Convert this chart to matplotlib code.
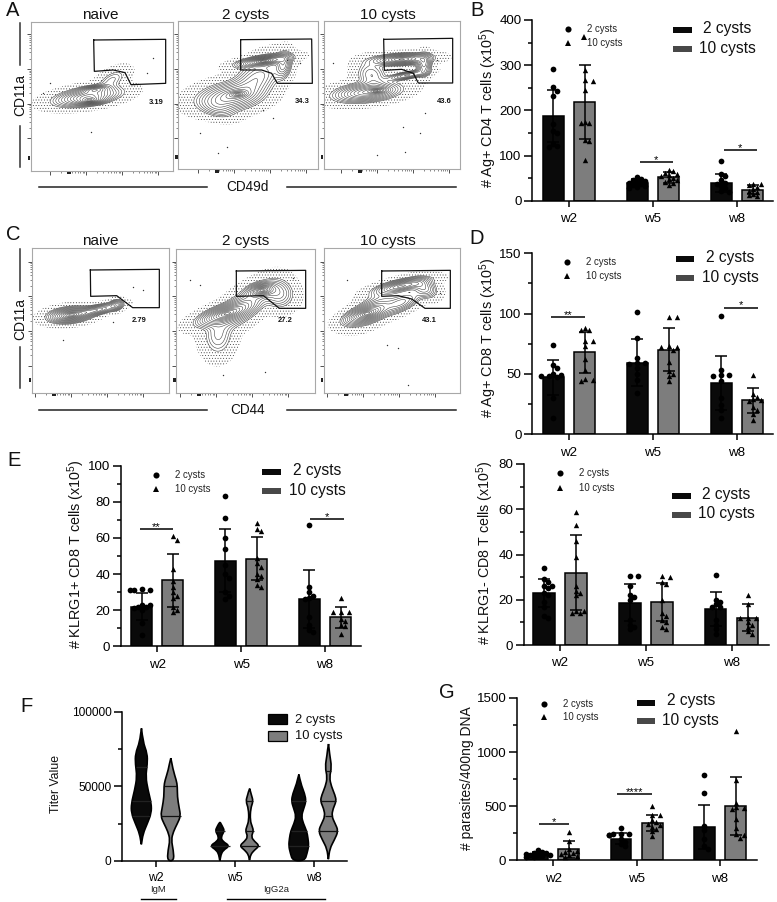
import numpy as np
import matplotlib
matplotlib.use("Agg")
import matplotlib.pyplot as plt
from matplotlib.patches import Rectangle, PathPatch
from matplotlib.path import Path

plt.rcParams['font.family'] = ['Liberation Sans', 'DejaVu Sans']
plt.rcParams['mathtext.default'] = 'regular'
plt.rcParams['hatch.linewidth'] = 0.3
plt.rcParams['hatch.color'] = '#333333'

W, H = 777, 902
WEEKS = ['w2', 'w5', 'w8']
GROUPS = ['2 cysts', '10 cysts']
BLACK = '#0a0a0a'
GREY = '#7d7d7d'
LEG_GREY = '#484848'

# ---- bar panel values -------------------------------------------------
B_MEAN_2 = [188, 40, 40]
B_SD_2 = [57, 7, 20]
B_MEAN_10 = [218, 52, 24]
B_SD_10 = [82, 12, 10]
B_PTS_2 = [[291, 251, 243, 231, 170, 155, 150, 125, 120, 118],
           [52, 48, 45, 43, 42, 40, 38, 35, 33, 30, 28],
           [88, 58, 55, 45, 40, 38, 32, 28, 22, 20]]
B_PTS_10 = [[290, 267, 265, 245, 175, 172, 172, 135, 132, 90],
            [68, 65, 62, 60, 57, 55, 50, 47, 45, 42, 40, 35],
            [38, 36, 34, 30, 25, 22, 20, 15, 12, 10]]

D_MEAN_2 = [47, 59, 42.5]
D_SD_2 = [14.5, 19.5, 22.5]
D_MEAN_10 = [68, 70, 28]
D_SD_10 = [17, 18, 10.5]
D_PTS_2 = [[74, 57, 55, 50, 49, 48, 48, 47, 30, 13],
           [101, 80, 63, 59, 59, 58, 55, 50, 45, 34],
           [98, 53, 49, 49, 48, 44, 30, 24, 20, 13]]
D_PTS_10 = [[88, 86, 86, 77, 77, 73, 62, 53, 46, 45, 44],
            [97, 97, 73, 72, 72, 70, 60, 52, 50, 48, 44],
            [49, 33, 31, 29, 28, 27, 22, 20, 17, 12]]

E_MEAN_2 = [22, 47.5, 26]
E_SD_2 = [7.5, 17.5, 16]
E_MEAN_10 = [36.5, 48.5, 16]
E_SD_10 = [14.5, 12, 6]
E_PTS_2 = [[31.5, 31, 31, 31, 23, 23, 22, 22, 21, 20, 13, 6],
           [83, 71, 60, 54, 45, 40, 38, 30, 28, 26],
           [67, 33, 30, 28, 27, 26, 16, 12, 9, 8]]
E_PTS_10 = [[61, 59, 43, 36, 33, 30, 28, 27, 22, 20, 19],
            [68, 65, 64, 49, 46, 44, 40, 39, 37, 34, 33],
            [27, 19, 19, 19, 15, 14, 12, 11, 7]]

K_MEAN_2 = [23, 18.7, 16]
K_SD_2 = [6, 8.3, 7.5]
K_MEAN_10 = [32, 19, 12]
K_SD_10 = [16.5, 8.5, 6]
K_PTS_2 = [[34, 29, 28, 26, 26, 25, 23, 22, 19, 17, 13, 12],
           [30.5, 30.5, 26, 22, 21, 20, 11, 9, 8, 7],
           [31, 20, 19, 18, 17, 17, 11, 9, 7, 5]]
K_PTS_10 = [[59, 53, 46, 39, 26, 24, 23, 22, 15, 15, 14, 14],
            [30.5, 30, 28, 27, 20, 14, 13, 11, 10, 8, 7],
            [22, 18, 12, 12, 12, 10, 9, 8, 6, 5]]

G_MEAN_2 = [50, 200, 305]
G_SD_2 = [25, 50, 205]
G_MEAN_10 = [100, 345, 500]
G_SD_10 = [75, 70, 270]
G_PTS_2 = [[95, 80, 70, 65, 60, 55, 50, 45, 40, 35, 30],
           [295, 245, 240, 240, 235, 230, 200, 170, 150, 130],
           [785, 620, 320, 280, 200, 130, 100]]
G_PTS_10 = [[265, 175, 100, 90, 80, 70, 60, 50, 40, 35],
            [505, 420, 415, 370, 350, 340, 330, 310, 290, 270, 225],
            [1195, 745, 530, 490, 480, 470, 380, 300, 240, 235, 205]]

# ---- violin outlines (titer, half width in category units) ------------
V_W2_2 = [(89000, .002), (80000, .02), (72000, .076), (65000, .076), (56500, .055), (47500, .085),
          (38500, .127), (32000, .127), (25000, .076), (18000, .021), (11000, .002)]
V_W2_10 = [(69000, .002), (61000, .03), (54000, .072), (50000, .085), (43000, .085), (36000, .106),
           (30000, .127), (25000, .085), (19500, .034), (14000, .008), (7000, .034), (0, .042)]
V_W5_2 = [(26000, .002), (23000, .034), (20000, .059), (16000, .013), (13000, .034), (10000, .127),
          (7000, .042), (4000, .013), (0, .002)]
V_W5_10 = [(48500, .002), (44000, .025), (40000, .047), (35000, .013), (27000, .008), (23000, .034),
           (20000, .051), (16000, .021), (13000, .063), (10000, .127), (7000, .059), (4000, .013), (500, .003)]
V_W8_2 = [(58000, .002), (52000, .025), (45000, .076), (40000, .093), (35000, .063), (30000, .034),
          (25000, .059), (20000, .101), (15000, .118), (10000, .127), (5000, .106), (0, .076)]
V_W8_10 = [(78500, .002), (71000, .017), (63000, .042), (56000, .013), (50000, .038), (44000, .085),
           (40000, .101), (35000, .059), (30000, .042), (25000, .085), (20000, .127), (14000, .076),
           (8000, .017), (1000, .002)]
V_Q_W2_2 = [63000, 40000, 30000]
V_Q_W2_10 = [50000, 30000]
V_Q_W5_2 = [20000, 10000]
V_Q_W5_10 = [40000, 20000, 10000]
V_Q_W8_2 = [40000, 20000, 10000]
V_Q_W8_10 = [60000, 40000, 30000, 20000]

# ---- flow cytometry panels (all in 3x crop units) ---------------------
# population blobs: x, y, sigma along, sigma across, angle, weight
A1_POP = [(262, 290, 52, 14, -8, 1.0), (285, 268, 24, 6, -5, .55), (272, 303, 24, 6, -5, .55), (335, 240, 28, 14, -30, .2)]
A2_POP = [(690, 290, 52, 22, -8, .75), (715, 282, 18, 6, -5, .35), (790, 183, 42, 8, -8, 1.0), (850, 195, 13, 22, 10, .5),
          (770, 235, 46, 26, -35, .45), (655, 325, 30, 16, 15, .2)]
A3_POP = [(1100, 277, 52, 15, -6, .9), (1135, 272, 18, 5, -5, .35), (1205, 178, 46, 9, -3, 1.0), (1272, 195, 12, 18, 5, .6),
          (1222, 226, 32, 6, -10, .6), (1115, 225, 22, 26, -60, .3)]
C1_POP = [(210, 270, 34, 12, -6, 1.0), (290, 255, 36, 8, -12, .6), (348, 240, 12, 9, -20, .4)]
C2_POP = [(670, 268, 44, 14, -18, 1.0), (785, 195, 22, 11, -10, 1.0), (835, 205, 26, 24, 20, .4),
          (730, 245, 54, 22, -38, .5), (655, 335, 24, 32, 5, .25)]
C3_POP = [(1095, 268, 36, 13, -18, 1.0), (1205, 183, 44, 10, -12, 1.0), (1272, 190, 22, 15, 20, .5),
          (1205, 232, 34, 14, -25, .55), (1130, 245, 46, 20, -32, .4)]
FLOW_POPS = [A1_POP, A2_POP, A3_POP, C1_POP, C2_POP, C3_POP]

A1_GATE = [(281, 120), (497, 118), (497, 250), (393, 254), (375, 218), (340, 210), (283, 214)]
A2_GATE = [(722, 119), (935, 117), (937, 250), (832, 250), (815, 220), (785, 210), (722, 210)]
A3_GATE = [(1151, 118), (1358, 115), (1358, 249), (1255, 249), (1240, 220), (1205, 208), (1153, 211)]
C1_GATE = [(271, 135), (478, 133), (478, 248), (398, 248), (350, 212), (272, 214)]
C2_GATE = [(709, 138), (917, 136), (917, 250), (838, 250), (790, 212), (709, 214)]
C3_GATE = [(1145, 138), (1351, 136), (1351, 250), (1275, 250), (1235, 222), (1195, 212), (1145, 214)]
FLOW_GATES = [A1_GATE, A2_GATE, A3_GATE, C1_GATE, C2_GATE, C3_GATE]

FLOW_PCT = ['3.19', '34.3', '43.6', '2.79', '27.2', '43.1']
FLOW_TITLES = ['naive', '2 cysts', '10 cysts']

A1_OUT = [(272, 395), (150, 250), (440, 220), (460, 175), (130, 280)]
A2_OUT = [(820, 355), (680, 440), (655, 460), (600, 400), (860, 180), (900, 190), (790, 330)]
A3_OUT = [(1275, 340), (1260, 400), (1130, 465), (1215, 455), (1210, 380), (1310, 180), (1000, 190)]
C1_OUT = [(400, 185), (428, 195), (190, 345), (340, 290)]
C2_OUT = [(570, 165), (670, 450), (795, 440), (600, 180), (880, 160)]
C3_OUT = [(1225, 480), (1195, 370), (1040, 165), (1320, 205), (1160, 360)]
FLOW_OUT = [A1_OUT, A2_OUT, A3_OUT, C1_OUT, C2_OUT, C3_OUT]

fig = plt.figure(figsize=(W / 100, H / 100), dpi=100, facecolor='white')


def axpx(l, t, r, b):
    return fig.add_axes([l / W, 1 - b / H, (r - l) / W, (b - t) / H])


ov = fig.add_axes([0, 0, 1, 1], zorder=50)
ov.set_xlim(0, W)
ov.set_ylim(H, 0)
ov.axis('off')
ov.patch.set_alpha(0)


def swarm(vals, ypx, sep=4.2, step=4.0):
    placed = []
    out = {}
    for i in np.argsort(vals)[::-1]:
        yp = vals[i] * ypx
        k = 0
        while True:
            off = ((k + 1) // 2) * (1 if k % 2 else -1) * step
            if all((off - a) ** 2 + (yp - b) ** 2 >= sep ** 2 for a, b in placed) or k >= 6:
                break
            k += 1
        placed.append((off, yp))
        out[i] = off
    return np.array([out[i] for i in range(len(vals))])


def bar_panel(box, ymax, majors, minors, ticks_px, m2, s2, p2, m10, s10, p10, sig):
    l, t, r, b = box
    ax = axpx(l, t, r, b)
    spacing = (ticks_px[2] - ticks_px[0]) / 2
    ax.set_xlim((l - ticks_px[0]) / spacing, (r - ticks_px[0]) / spacing)
    ax.set_ylim(0, ymax)
    ypx = (b - t) / ymax
    off, width = 0.187, 0.25
    xs = np.arange(3)
    for sgn, m, s, pts, col, mk, msz in ((-1, m2, s2, p2, BLACK, 'o', 17), (1, m10, s10, p10, GREY, '^', 15)):
        ax.bar(xs + sgn * off, m, width, color=col, edgecolor='black', linewidth=1.1, zorder=2)
        for x, vals in zip(xs + sgn * off, pts):
            v = np.array(vals, float)
            ax.scatter(x + swarm(v, ypx) / spacing, v, s=msz, marker=mk, c='black', linewidths=0, zorder=3, clip_on=False)
        ax.errorbar(xs + sgn * off, m, yerr=s, fmt='none', ecolor='black', elinewidth=1.1, capsize=4.6, capthick=1.1, zorder=4)
    for x0, x1, y, star in sig:
        ax.plot([x0, x1], [y, y], color='black', lw=1.1, solid_capstyle='butt', zorder=5)
        ax.annotate(star, ((x0 + x1) / 2, y), xytext=(0, -2.2), textcoords='offset points', ha='center', va='bottom', fontsize=8)
    style_axis(ax, majors, minors)
    return ax


def style_axis(ax, majors, minors):
    ax.set_xticks(range(3), WEEKS)
    ax.set_yticks(majors)
    ax.set_yticks(minors, minor=True)
    for s in ('top', 'right'):
        ax.spines[s].set_visible(False)
    for s in ('left', 'bottom'):
        ax.spines[s].set_linewidth(1.1)
    ax.tick_params(axis='y', which='major', length=6, width=1.1, labelsize=9.6, pad=1.5)
    ax.tick_params(axis='y', which='minor', length=3.2, width=1.1)
    ax.tick_params(axis='x', length=4.5, width=1.1, labelsize=9.6, pad=4.5)
    ax.patch.set_alpha(0)


def note_legends(off, mk_x, mk_ys, txt_xs, big_x, big_ys, big_txt, fc=LEG_GREY):
    ox, oy = off
    for y, m, tx, lab in zip(mk_ys, ('o', '^'), txt_xs, GROUPS):
        ov.plot(ox + mk_x / 3, oy + y / 3, m, color='black', ms=4.4, mew=0, clip_on=False)
        ov.text(ox + tx / 3, oy + y / 3, lab, fontsize=6.9, color='#222222', va='center', ha='left')
    for y, col, ty, lab in zip(big_ys, (BLACK, fc), big_txt, GROUPS):
        ov.add_patch(Rectangle((ox + big_x[0] / 3, oy + (y - 9) / 3), (big_x[1] - big_x[0]) / 3, 18 / 3, fc=col, ec='none'))
        ov.text(ox + big_x[2] / 3, oy + ty / 3, lab, fontsize=11.2, color='#111111', ha='center', va='center')


def ylab(x, y, s, size=10.4):
    ov.text(x, y, s, rotation=90, fontsize=size, ha='center', va='center', color='#111111')


# -- B
bar_panel((532, 20, 773, 200.7), 400, [0, 100, 200, 300, 400], [50, 150, 250, 350], (569, 653, 737),
          B_MEAN_2, B_SD_2, B_PTS_2, B_MEAN_10, B_SD_10, B_PTS_10,
          [(0.84, 1.24, 85.6, '*'), (1.84, 2.24, 113, '*')])
ylab(488.5, 108, '# Ag+ CD4 T cells (x10$^{5}$)')
note_legends((470, 0), 293, (88, 130), (350, 352), (610, 665, 772), (91, 146), (86, 146))
ov.plot(470 + 343 / 3, 110 / 3, '^', color='black', ms=4.2, mew=0)

# -- D
bar_panel((532, 253.3, 773, 434), 150, [0, 50, 100, 150], [25, 75, 125], (569, 653, 737),
          D_MEAN_2, D_SD_2, D_PTS_2, D_MEAN_10, D_SD_10, D_PTS_10,
          [(-0.21, 0.19, 97.4, '**'), (1.85, 2.25, 105, '*')])
ylab(488.5, 338, '# Ag+ CD8 T cells (x10$^{5}$)')
note_legends((470, 235), 291, (82, 124), (347, 347), (617, 672, 780), (73, 130), (68, 128))

# -- E
bar_panel((120.7, 465.7, 361, 646.3), 100, [0, 20, 40, 60, 80, 100], [10, 30, 50, 70, 90], (157.3, 241, 325),
          E_MEAN_2, E_SD_2, E_PTS_2, E_MEAN_10, E_SD_10, E_PTS_10,
          [(-0.21, 0.19, 64.8, '**'), (1.82, 2.23, 70.3, '*')])
ylab(76, 554, '# KLRG1+ CD8 T cells (x10$^{5}$)')
note_legends((30, 450), 378, (75, 118), (434, 434), (697, 752, 861), (65, 123), (60, 120))

# -- KLRG1-
bar_panel((523.7, 464, 769, 645), 80, [0, 20, 40, 60, 80], [10, 30, 50, 70], (560, 646, 731.7),
          K_MEAN_2, K_SD_2, K_PTS_2, K_MEAN_10, K_SD_10, K_PTS_10, [])
ylab(485, 553, '# KLRG1- CD8 T cells (x10$^{5}$)', size=10.3)
note_legends((430, 450), 389, (70, 113), (446, 446), (727, 782, 889), (138, 195), (132, 190))

# -- G
bar_panel((516.7, 698, 756.7, 860.3), 1500, [0, 500, 1000, 1500], [250, 750, 1250], (553.3, 636.7, 720),
          G_MEAN_2, G_SD_2, G_PTS_2, G_MEAN_10, G_SD_10, G_PTS_10,
          [(-0.168, 0.184, 333, '*'), (0.768, 1.184, 616, '****')])
ylab(467, 778, '# parasites/400ng DNA', size=10)
note_legends((430, 680), 342, (71, 110), (398, 398), (620, 674, 782), (68, 124), (63, 122))

# -- F violins
axf = axpx(122, 712, 347, 860.7)
spacing_f = (313.7 - 156) / 2
axf.set_xlim((122 - 156) / spacing_f, (347 - 156) / spacing_f)
axf.set_ylim(0, 100000)


def violin(ax, x0, outline, quart, col):
    arr = np.array(outline, float)
    pts = np.vstack([np.c_[x0 + arr[:, 1], arr[:, 0]], np.c_[x0 - arr[::-1, 1], arr[::-1, 0]]])
    verts = [tuple(pts[0])]
    codes = [Path.MOVETO]
    for i in range(1, len(pts) - 1):
        mid = (pts[i] + pts[i + 1]) / 2
        verts += [tuple(pts[i]), tuple(mid)]
        codes += [Path.CURVE3, Path.CURVE3]
    verts.append(tuple(pts[0]))
    codes.append(Path.LINETO)
    ax.add_patch(PathPatch(Path(verts, codes), fc=col, ec='black', lw=1.2, zorder=3, clip_on=False))
    for q in quart:
        hw = np.interp(q, arr[::-1, 0], arr[::-1, 1])
        ax.plot([x0 - hw, x0 + hw], [q, q], color='#222222' if col == BLACK else '#111111', lw=0.9, zorder=4, solid_capstyle='butt')


VIOLINS = [(-.186, V_W2_2, V_Q_W2_2, BLACK), (.186, V_W2_10, V_Q_W2_10, GREY),
           (1 - .19, V_W5_2, V_Q_W5_2, BLACK), (1 + .186, V_W5_10, V_Q_W5_10, GREY),
           (2 - .19, V_W8_2, V_Q_W8_2, BLACK), (2 + .186, V_W8_10, V_Q_W8_10, GREY)]
for x0, o, q, c in VIOLINS:
    violin(axf, x0, o, q, c)
style_axis(axf, [0, 50000, 100000], [25000, 75000])
axf.tick_params(axis='y', which='major', labelsize=8.6)
axf.tick_params(axis='x', labelsize=8.8, pad=3.5)
ylab(56, 784, 'Titer Value', size=8.8)
for y, col, lab, ty in ((118, BLACK, GROUPS[0], 120), (167, GREY, GROUPS[1], 167)):
    ov.add_patch(Rectangle((20 + 745 / 3, 680 + (y - 15) / 3), 55 / 3, 30 / 3, fc=col, ec='black', lw=0.9))
    ov.text(20 + 825 / 3, 680 + ty / 3, lab, fontsize=9.3, va='center', ha='left', color='#111111')
ov.text(20 + 415 / 3, 680 + 627 / 3, 'IgM', fontsize=6.8, ha='center', va='center', color='#222222')
ov.text(20 + 768 / 3, 680 + 627 / 3, 'IgG2a', fontsize=6.8, ha='center', va='center', color='#222222')
ov.plot([20 + 364 / 3, 20 + 467 / 3], [680 + 658 / 3] * 2, color='black', lw=1.0)
ov.plot([20 + 620 / 3, 20 + 914 / 3], [680 + 658 / 3] * 2, color='black', lw=1.0)

# -- flow panels
FRAMES = [(92, 65, 520, 512, 0), (535, 62, 955, 508, 0), (972, 62, 1380, 508, 0),
          (95, 70, 508, 503, 225), (529, 72, 945, 503, 225), (971, 70, 1380, 503, 225)]
PCT_POS = [(470, 306), (908, 304), (1332, 303), (416, 288), (855, 288), (1288, 288)]
TITLE_X = [300, 738, 1163, 300, 738, 1163]
TICK_X0 = [150, 593, 1022, 105, 540, 980]
TICK_Y0 = [103, 103, 103, 110, 110, 110]
RINGS = np.exp(-0.5 * np.linspace(0.22, 2.25, 14) ** 2)


def flow(i):
    zl, zt, zr, zb, oy = FRAMES[i]
    ax = axpx(zl / 3, oy + zt / 3, zr / 3, oy + zb / 3)
    ax.set_xlim(zl, zr)
    ax.set_ylim(zb, zt)
    gx, gy = np.meshgrid(np.linspace(zl, zr, 420), np.linspace(zt, zb, 420))
    dens = np.zeros_like(gx)
    for cx, cy, su, sv, ang, w in FLOW_POPS[i]:
        a = np.radians(ang)
        u = (gx - cx) * np.cos(a) + (gy - cy) * np.sin(a)
        v = -(gx - cx) * np.sin(a) + (gy - cy) * np.cos(a)
        dens += w * np.exp(-0.5 * (u / su) ** 2 - 0.5 * (v / sv) ** 2)
    top = dens.max()
    ax.contourf(gx, gy, dens, levels=[top * .004, top * RINGS[-1]], colors='none', hatches=['......'], zorder=1)
    ax.contour(gx, gy, dens, levels=top * RINGS[::-1], colors='#3c3c3c', linewidths=0.38, zorder=2)
    o = np.array(FLOW_OUT[i])
    ax.scatter(o[:, 0], o[:, 1], s=1.0, c='#333333', linewidths=0, zorder=1)
    g = np.array(FLOW_GATES[i] + [FLOW_GATES[i][0]])
    ax.plot(g[:, 0], g[:, 1], color='#111111', lw=0.9, zorder=3)
    ax.text(*PCT_POS[i], FLOW_PCT[i], fontsize=5.4, fontweight='bold', ha='center', va='center', color='#111111')
    for s in ax.spines.values():
        s.set_color('#a8a8a8')
        s.set_linewidth(0.8)
    sx, sy = 108, 104
    xmaj = TICK_X0[i] + sx * np.arange(4)
    ymaj = TICK_Y0[i] + sy * np.arange(4)
    ax.set_xticks(xmaj, [])
    ax.set_yticks(ymaj, [])
    frac = np.log10(np.arange(2, 10))
    xmin = np.concatenate([m - sx * (1 - frac) for m in xmaj[1:]])
    ymin = np.concatenate([m + sy * (1 - frac) for m in ymaj[:-1]])
    ax.set_xticks(xmin[(xmin > zl) & (xmin < zr)], minor=True)
    ax.set_yticks(ymin[(ymin > zt) & (ymin < zb)], minor=True)
    ax.tick_params(which='major', length=2.6, width=0.6, color='#333333', pad=0)
    ax.tick_params(which='minor', length=1.3, width=0.45, color='#444444')
    ov.add_patch(Rectangle((TICK_X0[i] / 3 + 17, oy + zb / 3 + 1), 4, 2.2, fc='#222222', ec='none'))
    ov.add_patch(Rectangle((zl / 3 - 3, oy + zb / 3 - 14.5), 2.2, 4, fc='#222222', ec='none'))
    ov.text(TITLE_X[i] / 3, 15 if i < 3 else 241, FLOW_TITLES[i % 3], fontsize=11, ha='center', va='center', color='#111111')


for i in range(6):
    flow(i)

# axis captions of the flow rows
for oy, (a0, a1, b0, b1), lab, yt in (
        (0, (70, 195, 378, 502), 'CD49d', 561),
        (225, (72, 197, 365, 490), 'CD44', 554)):
    ov.plot([20, 20], [oy + a0 / 3, oy + a1 / 3], color='#333333', lw=1.1)
    ov.plot([20, 20], [oy + b0 / 3, oy + b1 / 3], color='#333333', lw=1.1)
    ov.text(20, oy + (a1 + b0) / 2 / 3, 'CD11a', rotation=90, fontsize=10, ha='center', va='center', color='#111111')
    ov.plot([118 / 3, 620 / 3], [oy + yt / 3] * 2, color='#222222', lw=1.1)
    ov.plot([862 / 3, 1368 / 3], [oy + yt / 3] * 2, color='#222222', lw=1.1)
    ov.text(743 / 3, oy + yt / 3, lab, fontsize=9.8, ha='center', va='center', color='#111111')

# panel letters
for s, x, y in (('A', 13, 11), ('B', 477, 11), ('C', 13, 235), ('D', 477, 238), ('E', 14, 460), ('F', 26, 706), ('G', 447, 692)):
    ov.text(x, y, s, fontsize=14.5, ha='center', va='center', color='#111111')

fig.savefig('out.png', dpi=100, facecolor='white')
